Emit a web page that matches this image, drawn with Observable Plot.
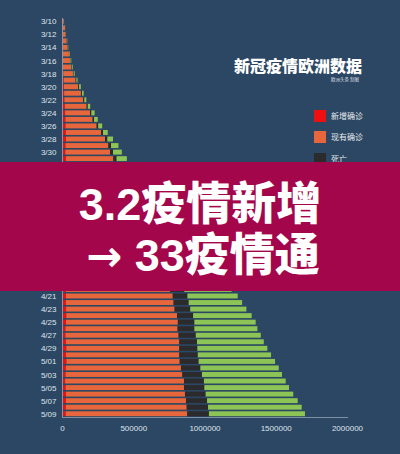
<!DOCTYPE html>
<html>
<head>
<meta charset="utf-8">
<script src="https://cdn.jsdelivr.net/npm/d3@7"></script>
<script src="https://cdn.jsdelivr.net/npm/@observablehq/plot@0.6"></script>
<style>
  html, body { margin: 0; padding: 0; }
  body { width: 400px; height: 454px; background: #2c4763; position: relative; overflow: hidden; font-family: "Noto Sans CJK SC", sans-serif; }
  #chart { position: absolute; left: 0; top: 0; }
  .title { position: absolute; left: 234px; top: 57px; font-size: 16px; line-height: 16px; font-weight: 900; color: #ffffff; white-space: nowrap; }
  .subtitle { position: absolute; left: 331px; top: 77px; font-size: 4.5px; line-height: 5px; color: #d6dbe2; white-space: nowrap; }
  .leg { position: absolute; left: 314px; display: flex; align-items: center; white-space: nowrap; }
  .leg .sw { width: 12px; height: 12px; margin-right: 5px; }
  .leg .tx { font-size: 8px; line-height: 12px; color: #e8eaee; }
  .banner { position: absolute; left: 0; top: 162px; width: 400px; height: 129px; background: #a3064b; }
  .bl { position: absolute; width: 400px; text-align: center; font-family: "Liberation Sans", "Noto Sans CJK SC", sans-serif; font-size: 45px; line-height: 50px; font-weight: 900; color: #ffffff; white-space: nowrap; }
  .bl .arrow { font-family: "DejaVu Sans", sans-serif; font-weight: 700; font-size: 43px; }
</style>
</head>
<body>
<div id="chart"></div>
<div class="title">新冠疫情欧洲数据</div>
<div class="subtitle">欧洲头条 制图</div>
<div id="legend"></div>
<div class="banner">
  <div class="bl" style="top:18px; left:0px;">3.2疫情新增</div>
  <div class="bl" style="top:69px; left:3px;"><span class="arrow">→</span> 33疫情通</div>
</div>
<script>
// Dates (rows), one per day
const dates = [
  "3/10","3/11","3/12","3/13","3/14","3/15","3/16","3/17","3/18","3/19","3/20","3/21","3/22","3/23","3/24","3/25","3/26","3/27","3/28","3/29","3/30","3/31",
  "4/01","4/02","4/03","4/04","4/05","4/06","4/07","4/08","4/09","4/10","4/11","4/12","4/13","4/14","4/15","4/16","4/17","4/18","4/19","4/20",
  "4/21","4/22","4/23","4/24","4/25","4/26","4/27","4/28","4/29","4/30","5/01","5/02","5/03","5/04","5/05","5/06","5/07","5/08","5/09"
];
// Values in thousands of people
const newCases = [
  1,2,3,4,4,5,6,7,9,12,14,15,17,20,22,24,25,27,28,25,23,28,
  30,32,33,33,31,28,30,33,34,35,33,30,28,29,32,33,34,32,29,27,
  28,27,29,30,28,25,24,27,30,28,31,27,25,22,26,28,28,27,26
];
const activeCases = [
  12,19,22,29,34,44,50,57,68,84,100,118,132,153,175,191,218,247,274,300,314,332,
  355,378,400,422,443,462,480,500,520,540,560,580,600,620,640,660,680,700,715,732,
  749,756,761,777,785,786,794,796,793,795,795,808,819,834,830,835,842,848,853
];
const deaths = [
  0.6,1,1.2,1.5,2,2.5,3,4,4.5,5,6,7,7.5,8,9,10,11,14,16,19,21,23,
  27,31,35,39,43,46,50,54,58,62,66,70,74,77,81,85,89,92,96,99,
  103,106,110,113,116,118,121,124,127,130,133,136,138,140,143,145,148,150,152
];
const recovered = [
  0.8,1,1.8,2.5,4,4.5,6,7,7.5,8,12,12,14,17,23,26,28,33,40,52,62,72,
  80,88,97,106,114,124,134,145,156,168,180,192,205,220,236,252,270,288,310,332,
  353,375,394,411,430,442,456,469,491,514,536,550,562,574,594,615,636,657,674
];
const types = ["新增确诊", "现有确诊", "死亡", "治愈"];
const colors = ["#ee1010", "#e8663b", "#2b2b2d", "#8cc555"];
const xTicks = [0, 500000, 1000000, 1500000, 2000000];
const yTicks = dates.filter((d, i) => i % 2 === 0);

const series = [newCases, activeCases, deaths, recovered];
const rows = [];
dates.forEach((d, i) => {
  types.forEach((t, k) => rows.push({date: d, type: t, value: series[k][i] * 1000}));
});

const chart = Plot.plot({
  width: 400,
  height: 454,
  marginTop: 18,
  marginBottom: 37,
  marginLeft: 62,
  marginRight: 53,
  style: {background: "transparent", color: "#dfe5ec", fontFamily: "'Liberation Sans', Arial, sans-serif", fontSize: "8px"},
  x: {domain: [0, 2000000], label: null},
  y: {domain: dates, paddingInner: 0.25, paddingOuter: 0.125, round: false, label: null},
  color: {domain: types, range: colors},
  marks: [
    Plot.barX(rows, {x: "value", y: "date", fill: "type", order: types}),
    Plot.ruleX([0], {stroke: "#8796a9", strokeWidth: 1}),
    Plot.frame({anchor: "bottom", stroke: "#7f8fa3"}),
    Plot.axisX({ticks: xTicks, tickSize: 0, tickPadding: 8, tickFormat: d => String(d), label: null, fill: "#dfe5ec"}),
    Plot.axisY({ticks: yTicks, tickSize: 0, tickPadding: 6, label: null, fill: "#dfe5ec"})
  ]
});
document.getElementById("chart").appendChild(chart);

// Legend (the 4th entry is hidden behind the banner in the reference)
const legend = document.getElementById("legend");
const legTops = [110, 131, 153, 175];
types.forEach((t, k) => {
  const el = document.createElement("div");
  el.className = "leg";
  el.style.top = legTops[k] + "px";
  el.innerHTML = `<div class="sw" style="background:${colors[k]}"></div><div class="tx">${t}</div>`;
  legend.appendChild(el);
});
</script>
</body>
</html>
